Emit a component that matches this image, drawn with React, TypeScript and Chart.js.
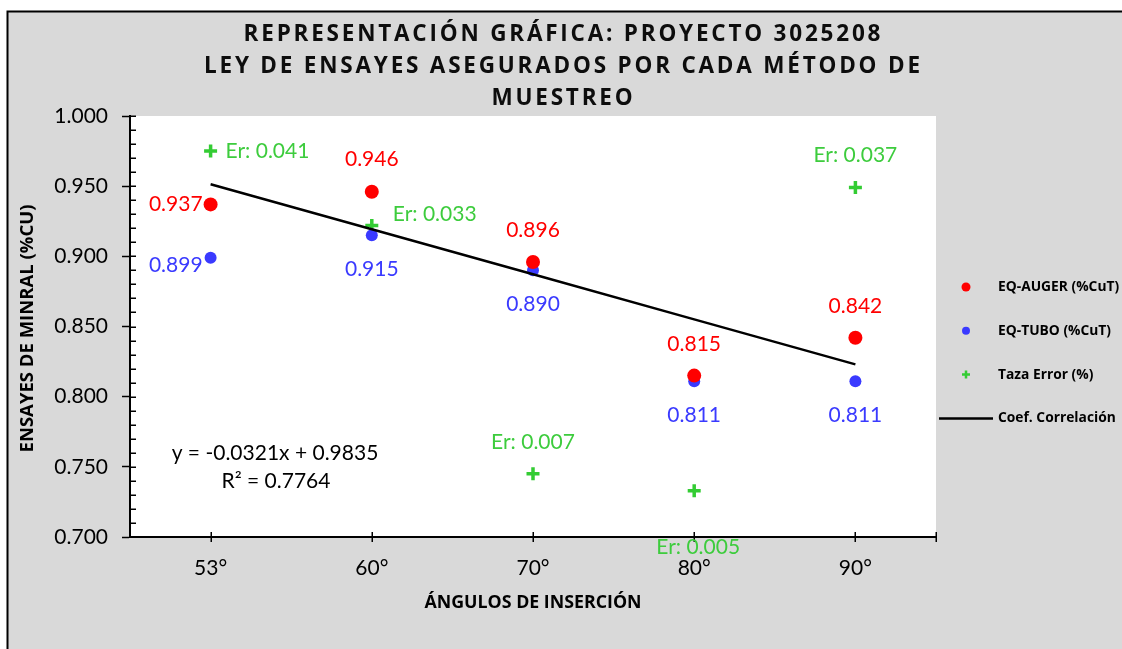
import React, { useEffect, useRef } from "react";
import { Chart, registerables } from "chart.js";

Chart.register(...registerables);

// ---------- data ----------
const categories = ["53°", "60°", "70°", "80°", "90°"];
const augerValues = [0.937, 0.946, 0.896, 0.815, 0.842];
const tuboValues = [0.899, 0.915, 0.89, 0.811, 0.811];
const errorPlotValues = [0.975, 0.922, 0.745, 0.733, 0.949];
const errorRates = [0.041, 0.033, 0.007, 0.005, 0.037];
const trendValues = [0.9514, 0.9193, 0.8872, 0.8551, 0.823];
const yMin = 0.7;
const yMax = 1.0;
const yMajorStep = 0.05;
const yMinorStep = 0.01;
const titleLines = [
  "REPRESENTACIÓN GRÁFICA: PROYECTO 3025208",
  "LEY DE ENSAYES ASEGURADOS POR CADA MÉTODO DE",
  "MUESTREO",
];
const yAxisTitle = "ENSAYES DE MINRAL (%CU)";
const xAxisTitle = "ÁNGULOS DE INSERCIÓN";
const equationText = "y = -0.0321x + 0.9835";
const r2Text = "R² = 0.7764";
const seriesNames = ["EQ-AUGER (%CuT)", "EQ-TUBO (%CuT)", "Taza Error (%)", "Coef. Correlación"];

// ---------- styles ----------
const RED = "#ff0000";
const BLUE = "#3a3aff";
const GREEN = "#33cc33";
const GREEN_TEXT = "#3dcc3d";
const FONT = "Lato, 'Open Sans', sans-serif";
const BOLD_FONT = "'Open Sans', Lato, sans-serif";
const W = 1122;
const H = 649;

// label placement: [dx, dy, align]
const augerLabelPos: [number, number, CanvasTextAlign][] = [
  [-8, 0, "right"],
  [0, -33, "center"],
  [0, -32, "center"],
  [0, -31, "center"],
  [0, -31, "center"],
];
const tuboLabelPos: [number, number, CanvasTextAlign][] = [
  [-8, 7, "right"],
  [0, 34, "center"],
  [0, 34, "center"],
  [0, 34, "center"],
  [0, 34, "center"],
];
const errLabelPos: [number, number, CanvasTextAlign][] = [
  [15, 0, "left"],
  [21, -11, "left"],
  [0, -32, "center"],
  [4, 57, "center"],
  [0, -32, "center"],
];

const backgroundPlugin = {
  id: "bg",
  beforeDraw(chart: any) {
    const { ctx, chartArea } = chart;
    ctx.save();
    ctx.fillStyle = "#ffffff";
    ctx.fillRect(0, 0, W, H);
    ctx.fillStyle = "#d9d9d9";
    ctx.fillRect(8, 12, W, H);
    ctx.strokeStyle = "#000";
    ctx.lineWidth = 2;
    ctx.beginPath();
    ctx.moveTo(7.5, H + 5);
    ctx.lineTo(7.5, 11.5);
    ctx.lineTo(W + 5, 11.5);
    ctx.stroke();
    ctx.fillStyle = "#ffffff";
    ctx.fillRect(chartArea.left, chartArea.top, chartArea.right - chartArea.left, chartArea.bottom - chartArea.top);
    ctx.restore();
  },
};

function drawMarker(ctx: CanvasRenderingContext2D, kind: number, x: number, y: number) {
  ctx.save();
  if (kind === 0 || kind === 1) {
    ctx.fillStyle = kind === 0 ? RED : BLUE;
    ctx.beginPath();
    ctx.arc(x, y, kind === 0 ? 4.5 : 4, 0, Math.PI * 2);
    ctx.fill();
  } else if (kind === 2) {
    ctx.strokeStyle = GREEN;
    ctx.lineWidth = 2.5;
    ctx.beginPath();
    ctx.moveTo(x - 4, y);
    ctx.lineTo(x + 4, y);
    ctx.moveTo(x, y - 4);
    ctx.lineTo(x, y + 4);
    ctx.stroke();
  } else {
    ctx.strokeStyle = "#000";
    ctx.lineWidth = 2.5;
    ctx.beginPath();
    ctx.moveTo(x - 27, y);
    ctx.lineTo(x + 27, y);
    ctx.stroke();
  }
  ctx.restore();
}

const decorPlugin = {
  id: "decor",
  afterDraw(chart: any) {
    const { ctx, chartArea } = chart;
    const xs = chart.scales.x;
    const ys = chart.scales.y;
    ctx.save();

    // y axis ticks: minor inside, major inside part
    ctx.strokeStyle = "#000";
    ctx.lineWidth = 1.5;
    const nSteps = Math.round((yMax - yMin) / yMinorStep);
    for (let i = 0; i <= nSteps; i++) {
      const v = yMin + i * yMinorStep;
      const py = Math.round(ys.getPixelForValue(v)) + 0.25;
      ctx.beginPath();
      ctx.moveTo(chartArea.left, py);
      ctx.lineTo(chartArea.left + 6, py);
      ctx.stroke();
    }
    // x axis cross ticks
    const xTickPix = categories.map((_, i) => xs.getPixelForValue(i));
    xTickPix.push(chartArea.right);
    for (const px of xTickPix) {
      const rx = Math.round(px) + 0.25;
      ctx.beginPath();
      ctx.moveTo(rx, chartArea.bottom - 5);
      ctx.lineTo(rx, chartArea.bottom + 5);
      ctx.stroke();
    }

    // data labels
    ctx.font = `21px ${FONT}`;
    ctx.textBaseline = "middle";
    const drawLabels = (vals: number[], texts: string[], pos: [number, number, CanvasTextAlign][], color: string) => {
      ctx.fillStyle = color;
      vals.forEach((v, i) => {
        const px = xs.getPixelForValue(i);
        const py = ys.getPixelForValue(v);
        const [dx, dy, al] = pos[i];
        ctx.textAlign = al;
        ctx.fillText(texts[i], px + dx, py + dy);
      });
    };
    drawLabels(augerValues, augerValues.map((v) => v.toFixed(3)), augerLabelPos, RED);
    drawLabels(tuboValues, tuboValues.map((v) => v.toFixed(3)), tuboLabelPos, BLUE);
    drawLabels(errorPlotValues, errorRates.map((v) => "Er: " + v.toFixed(3)), errLabelPos, GREEN_TEXT);

    // equation
    ctx.fillStyle = "#000";
    ctx.textAlign = "center";
    ctx.font = `21px ${FONT}`;
    ctx.fillText(equationText, chartArea.left + 145, chartArea.top + 337);
    ctx.fillText(r2Text, chartArea.left + 146, chartArea.top + 365);

    // title
    ctx.font = `bold 22.5px ${BOLD_FONT}`;
    ctx.fillStyle = "#0d0d0d";
    ctx.textAlign = "left";
    (ctx as any).letterSpacing = "0px";
    const base = ctx.measureText(titleLines[0]).width;
    const spacing = Math.max(0, (637 - base) / (titleLines[0].length - 1));
    (ctx as any).letterSpacing = `${spacing.toFixed(2)}px`;
    const cx = 562;
    titleLines.forEach((line, i) => {
      const w = ctx.measureText(line).width - spacing;
      ctx.fillText(line, cx - w / 2, 34.5 + i * 32);
    });
    (ctx as any).letterSpacing = "0px";

    // axis titles
    ctx.fillStyle = "#000";
    ctx.textAlign = "center";
    ctx.font = `bold 17.8px ${BOLD_FONT}`;
    ctx.fillText(xAxisTitle, (chartArea.left + chartArea.right) / 2, 603);
    ctx.font = `bold 18.5px ${BOLD_FONT}`;
    ctx.save();
    ctx.translate(28, (chartArea.top + chartArea.bottom) / 2 + 2);
    ctx.rotate(-Math.PI / 2);
    ctx.fillText(yAxisTitle, 0, 0);
    ctx.restore();

    // legend
    ctx.font = `bold 13.8px ${BOLD_FONT}`;
    ctx.textAlign = "left";
    seriesNames.forEach((name, i) => {
      const ly = 287 + i * 43.8;
      drawMarker(ctx, i, 966, ly);
      ctx.fillStyle = "#000";
      ctx.fillText(name, 998, ly);
    });

    ctx.restore();
  },
};

export default function App() {
  const ref = useRef<HTMLCanvasElement | null>(null);
  useEffect(() => {
    if (!ref.current) return;
    const tickFont = { family: FONT, size: 21 };
    const chart = new Chart(ref.current, {
      type: "line",
      data: {
        labels: categories,
        datasets: [
          {
            label: seriesNames[3],
            data: trendValues,
            borderColor: "#000",
            borderWidth: 2.5,
            pointRadius: 0,
            fill: false,
            tension: 0,
            order: 0,
          },
          {
            label: seriesNames[0],
            data: augerValues,
            showLine: false,
            pointRadius: 7,
            pointBackgroundColor: RED,
            pointBorderColor: RED,
            pointBorderWidth: 0,
            order: 1,
          },
          {
            label: seriesNames[1],
            data: tuboValues,
            showLine: false,
            pointRadius: 6,
            pointBackgroundColor: BLUE,
            pointBorderColor: BLUE,
            pointBorderWidth: 0,
            order: 2,
          },
          {
            label: seriesNames[2],
            data: errorPlotValues,
            showLine: false,
            pointStyle: "cross",
            pointRadius: 6.5,
            pointBorderWidth: 3.5,
            pointBorderColor: GREEN,
            pointBackgroundColor: GREEN,
            order: 3,
          },
        ],
      },
      options: {
        responsive: false,
        animation: false,
        layout: { padding: { top: 116, right: 186, left: 0, bottom: 0 } },
        plugins: {
          legend: { display: false },
          title: { display: false },
          tooltip: { enabled: false },
        },
        scales: {
          x: {
            type: "category",
            offset: true,
            grid: { display: false, drawOnChartArea: false, drawTicks: false },
            border: { display: true, color: "#000", width: 2 },
            ticks: { font: tickFont, color: "#000", padding: 19, maxRotation: 0, autoSkip: false },
            afterFit: (s: any) => {
              s.height = 112;
            },
          },
          y: {
            min: yMin,
            max: yMax,
            ticks: {
              stepSize: yMajorStep,
              font: tickFont,
              color: "#000",
              padding: 14,
              callback: (v: any) => Number(v).toFixed(3),
            },
            grid: {
              display: true,
              drawOnChartArea: false,
              drawTicks: true,
              tickLength: 8,
              tickColor: "#000",
              tickWidth: 1.5,
              color: "#000",
            },
            border: { display: true, color: "#000", width: 2 },
            afterFit: (s: any) => {
              s.width = 130;
            },
          },
        },
      },
      plugins: [backgroundPlugin, decorPlugin],
    } as any);
    return () => chart.destroy();
  }, []);

  return (
    <div style={{ position: "absolute", left: 0, top: 0, width: W, height: H, overflow: "hidden" }}>
      <canvas ref={ref} width={W} height={H} style={{ display: "block", width: W, height: H }} />
    </div>
  );
}
